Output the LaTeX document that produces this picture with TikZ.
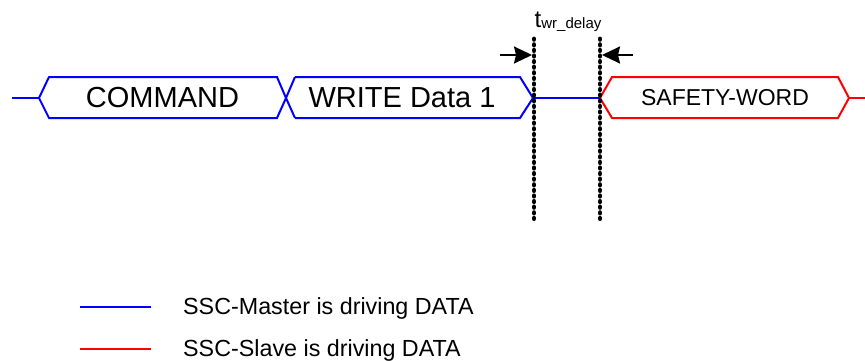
\documentclass[tikz,border=0pt]{standalone}
\usepackage{fontspec}
\setmainfont{Liberation Sans}
\usetikzlibrary{arrows.meta}
\definecolor{mblue}{RGB}{0,0,255}
\definecolor{sred}{RGB}{255,0,0}
\tikzset{
  master/.style={draw=mblue, line width=2pt, line join=miter},
  slave/.style={draw=sred, line width=2pt, line join=miter},
  marker/.style={draw=black, line width=4.8pt, line cap=round, dash pattern=on 0.4pt off 5.2pt},
  dimarrow/.style={draw=black, line width=2pt, -{Stealth[length=18pt,width=17pt,inset=2pt]}},
  boxtext/.style={font=\fontsize{29}{29}\selectfont, inner sep=0pt},
  smalltext/.style={font=\fontsize{23}{23}\selectfont, inner sep=0pt},
  legendtext/.style={font=\fontsize{23.3}{23.3}\selectfont, inner sep=0pt, anchor=base west}
}
\begin{document}
\begin{tikzpicture}[x=1pt,y=-1pt]
\useasboundingbox (0,0) rectangle (865,360);

% bus levels
\def\yt{77}
\def\ym{98}
\def\yb{118}

% idle line before COMMAND
\draw[master] (12,\ym) -- (39,\ym);
% COMMAND frame
\draw[master] (295,\yt) -- (286,\ym) -- (277,\yb) -- (49,\yb) -- (39,\ym) -- (49,\yt) -- (277,\yt) -- (286,\ym) -- (295,\yb);
\node[boxtext] (cmd) at (162.5,97.5) {COMMAND};
% WRITE Data 1 frame
\draw[master] (295,\yt) -- (520,\yt) -- (533,\ym) -- (520,\yb) -- (295,\yb);
\node[boxtext] (wr) at (402,97.5) {WRITE Data 1};
% bus between write and response
\coordinate (wend) at (533,\ym);
\coordinate (sstart) at (600,\ym);
\draw[master] (wend) -- (sstart);
% SAFETY-WORD frame
\draw[slave] (sstart) -- (612,\yt) -- (838,\yt) -- (849,\ym) -- (838,\yb) -- (612,\yb) -- cycle;
\draw[slave] (849,\ym) -- (866,\ym);
\node[smalltext] (sw) at (725,97.5) {SAFETY-WORD};

% timing markers
\coordinate (m1t) at (534,39);
\coordinate (m1b) at (534,221);
\coordinate (m2t) at (600,39);
\coordinate (m2b) at (600,221);
\draw[marker] (m1t) -- (m1b);
\draw[marker] (m2t) -- (m2b);

% delay arrows
\coordinate (a1s) at (500,55);
\coordinate (a1e) at (532,55);
\coordinate (a2s) at (633,55);
\coordinate (a2e) at (602,55);
\draw[dimarrow] (a1s) -- (a1e);
\draw[dimarrow] (a2s) -- (a2e);

% delay label
\node[anchor=base west, inner sep=0pt] (tl) at (534.5,27)
  {\fontsize{24}{24}\selectfont t\raisebox{-1.5pt}{\fontsize{15}{15}\selectfont wr\_delay}};

% legend
\coordinate (l1a) at (80,307);
\coordinate (l1b) at (151,307);
\coordinate (l2a) at (80,349);
\coordinate (l2b) at (151,349);
\draw[master] (l1a) -- (l1b);
\draw[slave] (l2a) -- (l2b);
\node[legendtext] (lt1) at (183,314) {SSC-Master is driving DATA};
\node[legendtext] (lt2) at (183,356) {SSC-Slave is driving DATA};
\end{tikzpicture}
\end{document}
